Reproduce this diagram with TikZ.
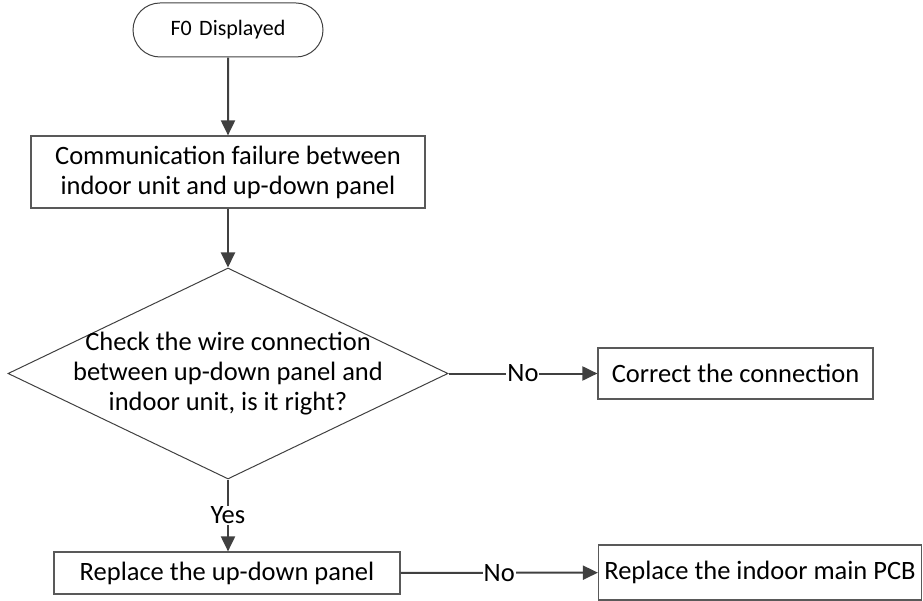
\documentclass[tikz,border=0pt]{standalone}
\usepackage{fontspec}
\setmainfont{Carlito}
\usetikzlibrary{shapes.geometric,shapes.misc,arrows.meta,positioning}
\tikzset{
 startstop/.style={draw=black!75,line width=1pt,rounded rectangle,minimum width=190pt,minimum height=54pt,inner sep=0pt,font=\fontsize{22}{26}\selectfont},
 procbox/.style={draw=black!65,line width=1.2pt,rectangle,align=center,inner sep=0pt},
 decision/.style={draw=black!75,line width=1pt,diamond,inner sep=0pt,minimum width=440pt,minimum height=211pt},
 flow/.style={draw=black!75,line width=2pt,-{Triangle[length=15pt,width=14pt]}},
 edgelabel/.style={fill=white,inner sep=1pt}
}
\begin{document}
\begin{tikzpicture}[x=1pt,y=-1pt,font=\fontsize{26.5}{30}\selectfont]
 \useasboundingbox (0,0) rectangle (923,601);
 \node[startstop] (fzero) at (228,30) {F0\,\,Displayed};
 \node[procbox,minimum width=394pt,minimum height=72pt] (commfail) at (228,172) {Communication failure between\\indoor unit and up-down panel};
 \node[decision] (checkwire) at (228,373.5) {};
 \node[align=center,inner sep=0pt] (checktext) at (checkwire.center) {Check the wire connection\\between up-down panel and\\indoor unit, is it right?};
 \node[procbox,minimum width=275pt,minimum height=51pt] (correct) at (735.5,373.5) {Correct the connection};
 \node[procbox,minimum width=346pt,minimum height=42pt] (panel) at (227,573) {Replace the up-down panel};
 \node[procbox,minimum width=323pt,minimum height=55pt] (mainpcb) at (760,572.5) {Replace the indoor main PCB};
 % connectors
 \draw[flow] (fzero) -- (commfail);
 \draw[flow] (commfail) -- (checkwire);
 \draw[flow] (checkwire.east) -- node[edgelabel]{No} (correct);
 \draw[flow] (checkwire.south) -- node[edgelabel,pos=0.5]{Yes} (checkwire.south |- panel.north);
 \draw[flow] (panel) -- node[edgelabel]{No} (mainpcb);
\end{tikzpicture}
\end{document}
